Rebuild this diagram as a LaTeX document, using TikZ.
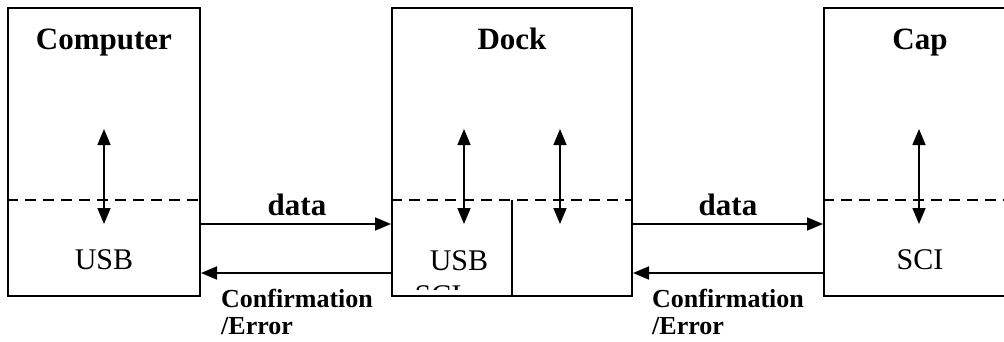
\documentclass[tikz,border=0pt]{standalone}
\usepackage{fontspec}
\setmainfont{Liberation Serif}
\usetikzlibrary{arrows.meta}
\begin{document}
\begin{tikzpicture}[x=1pt,y=1pt,
  unit/.style={draw,line width=2pt,minimum height=288pt,inner sep=0pt},
  link/.style={line width=1.6pt,-{Triangle[length=16pt,width=13pt]}},
  both/.style={line width=1.6pt,{Triangle[length=16pt,width=13pt]}-{Triangle[length=16pt,width=13pt]}},
  sep/.style={line width=2pt,dash pattern=on 11pt off 7pt},
  title/.style={font=\fontsize{31}{31}\selectfont\bfseries,anchor=base},
  port/.style={font=\fontsize{30}{30}\selectfont,anchor=base},
  tag/.style={font=\fontsize{26}{26}\selectfont\bfseries,anchor=base west,inner sep=0pt}]
\useasboundingbox (0,0) rectangle (1004,341);
\clip (0,0) rectangle (1004,341);

% the three units
\node[unit,minimum width=192pt] (comp) at (104,189) {};
\node[unit,minimum width=240pt] (dock) at (512,189) {};
\node[unit,minimum width=240pt] (cap)  at (944,189) {};

% interface boundaries
\draw[sep] (comp.west |- 0,141) -- (comp.east |- 0,141);
\draw[sep] (dock.west |- 0,141) -- (dock.east |- 0,141);
\draw[sep] (cap.west |- 0,141) -- (cap.east |- 0,141);
\coordinate (split) at (512,141);
\draw[line width=2pt] (split) -- (dock.south -| split);

% titles
\node[title] (tcomp) at (104,291) {Computer};
\node[title] (tdock) at (512,292) {Dock};
\node[title] (tcap)  at (920,291) {Cap};

% port labels
\node[port] (pusb)  at (104,72) {USB};
\node[port] (dusb)  at (459,71) {USB};
\node[port] (psci)  at (920,72) {SCI};
\begin{scope}
  \clip (392,52) rectangle (512,57);
  \node[port] (dsci) at (438,36) {SCI};
\end{scope}

% internal paths through each boundary
\coordinate (c1) at (104,212); \coordinate (c2) at (104,117);
\coordinate (d1) at (464,212); \coordinate (d2) at (464,117);
\coordinate (e1) at (560,212); \coordinate (e2) at (560,117);
\coordinate (f1) at (919,212); \coordinate (f2) at (919,117);
\draw[both] (c1) -- (c2);
\draw[both] (d1) -- (d2);
\draw[both] (e1) -- (e2);
\draw[both] (f1) -- (f2);

% links between units
\draw[link] (comp.east |- 0,117) -- (dock.west |- 0,117);
\draw[link] (dock.west |- 0,68) -- (comp.east |- 0,68);
\draw[link] (dock.east |- 0,117) -- (cap.west |- 0,117);
\draw[link] (cap.west |- 0,68) -- (dock.east |- 0,68);

% link labels
\node[title] (data1) at (297,126) {data};
\node[title] (data2) at (728,126) {data};
\node[tag] (conf1) at (221,34) {Confirmation};
\node[tag] (err1)  at (221,7) {/Error};
\node[tag] (conf2) at (652,34) {Confirmation};
\node[tag] (err2)  at (652,7) {/Error};
\end{tikzpicture}
\end{document}
